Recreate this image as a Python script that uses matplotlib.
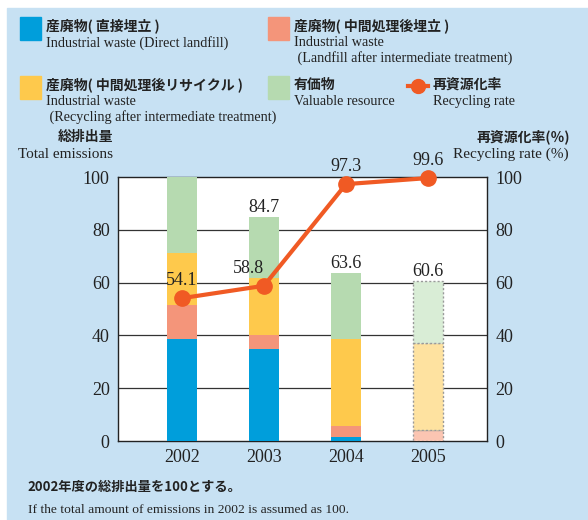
import matplotlib.pyplot as plt
from matplotlib.patches import Rectangle
from matplotlib.lines import Line2D

# Data (2002 total = 100)
years = ["2002", "2003", "2004", "2005"]
direct_landfill = [38.6, 34.8, 1.6, 0.0]
landfill_after = [12.8, 5.4, 4.2, 4.3]
recycling_after = [19.8, 21.7, 32.8, 32.7]
valuable = [28.8, 22.8, 25.0, 23.6]
totals = [100, 84.7, 63.6, 60.6]
recycling_rate = [54.1, 58.8, 97.3, 99.6]

W, H = 588, 520
JP = ["Noto Sans CJK JP", "DejaVu Sans"]
SERIF = "Liberation Serif"

c_blue, c_salmon, c_yellow, c_green = "#009edb", "#f4957a", "#fec94c", "#b6dab0"
pale = {c_salmon: "#fbc5b2", c_yellow: "#fee2a0", c_green: "#d9edd6"}
c_line = "#f05a24"
c_bg = "#c7e1f3"


def px(x, y):
    return x / W, 1 - y / H


fig = plt.figure(figsize=(W / 100, H / 100), dpi=100)
fig.patches.append(Rectangle(px(7, H), (W - 7) / W, (H - 8) / H,
                             transform=fig.transFigure, color=c_bg, zorder=-5))

ax = fig.add_axes([118 / W, (H - 441) / H, 369 / W, 264 / H])
ax.set_facecolor("white")
x = range(len(years))
width = 0.37
bottoms = [0.0] * len(years)
for vals, col in [(direct_landfill, c_blue), (landfill_after, c_salmon),
                  (recycling_after, c_yellow), (valuable, c_green)]:
    for i, v in enumerate(vals):
        if v <= 0:
            continue
        if i == 3:  # 2005 drawn pale with dotted edges
            ax.bar(i, v, width, bottom=bottoms[i], color=pale.get(col, col),
                   edgecolor="#999999", linestyle=(0, (1.5, 1.5)), linewidth=1, zorder=3)
        else:
            ax.bar(i, v, width, bottom=bottoms[i], color=col, zorder=3)
        bottoms[i] += v

for i, t in enumerate(totals[1:], start=1):
    ax.text(i, t + 2.0, f"{t}", ha="center", va="baseline", family=SERIF,
            fontsize=13, color="#222222", zorder=5)

ax.set_xlim(-0.78, 3.72)
ax.set_ylim(0, 100)
ax.set_xticks(list(x))
ax.set_xticklabels(years)
ax.set_yticks(range(0, 101, 20))
for y in range(20, 100, 20):
    ax.axhline(y, color="#333333", lw=0.9, zorder=1)
ax.tick_params(length=0, labelsize=13, pad=6, labelcolor="#222222")
for lab in ax.get_xticklabels() + ax.get_yticklabels():
    lab.set_family(SERIF)
for s in ax.spines.values():
    s.set_color("#222222")
    s.set_linewidth(1)

ax2 = ax.twinx()
ax2.set_ylim(0, 100)
ax2.set_yticks(range(0, 101, 20))
ax2.tick_params(length=0, labelsize=13, pad=6, labelcolor="#222222")
for lab in ax2.get_yticklabels():
    lab.set_family(SERIF)
for s in ax2.spines.values():
    s.set_visible(False)
ax2.plot(list(x), recycling_rate, color=c_line, lw=3, marker="o", markersize=11,
         zorder=6, clip_on=False)
for i, r in enumerate(recycling_rate):
    ax2.text(i - (0.19 if i == 1 else 0), r + 5.0, f"{r}", ha="center", va="baseline",
             family=SERIF, fontsize=13, color="#222222")

# axis titles
fig.text(*px(113, 137), "総排出量", ha="right", va="center", family=JP,
         fontsize=10, weight="bold", color="#222222")
fig.text(*px(113, 154), "Total emissions", ha="right", va="center", family=SERIF,
         fontsize=11, color="#222222")
fig.text(*px(570, 137), "再資源化率(％)", ha="right", va="center", family=JP,
         fontsize=10, weight="bold", color="#222222")
fig.text(*px(569, 154), "Recycling rate (%)", ha="right", va="center", family=SERIF,
         fontsize=11, color="#222222")

# legend, hand placed
legend_items = [
    (20, 17, c_blue, "産廃物( 直接埋立 )", "Industrial waste (Direct landfill)"),
    (268, 17, c_salmon, "産廃物( 中間処理後埋立 )",
     "Industrial waste\n (Landfill after intermediate treatment)"),
    (20, 76, c_yellow, "産廃物( 中間処理後リサイクル )",
     "Industrial waste\n (Recycling after intermediate treatment)"),
    (268, 76, c_green, "有価物", "Valuable resource"),
]
for lx, ly, col, jp, en in legend_items:
    fig.patches.append(Rectangle(px(lx, ly + 23), 21 / W, 23 / H,
                                 transform=fig.transFigure, color=col, zorder=2))
    fig.text(*px(lx + 26, ly + 9), jp, ha="left", va="center", family=JP,
             fontsize=10, weight="bold", color="#222222")
    fig.text(*px(lx + 26, ly + 19), en, ha="left", va="top", family=SERIF,
             fontsize=10.2, color="#222222", linespacing=1.15)
fig.lines.append(Line2D([408 / W, 428 / W], [1 - 86 / H] * 2, transform=fig.transFigure,
                        color=c_line, lw=3))
fig.lines.append(Line2D([418 / W], [1 - 86 / H], transform=fig.transFigure,
                        color=c_line, marker="o", markersize=10, linestyle="none"))
fig.text(*px(433, 85), "再資源化率", ha="left", va="center", family=JP,
         fontsize=10, weight="bold", color="#222222")
fig.text(*px(433, 95), "Recycling rate", ha="left", va="top", family=SERIF,
         fontsize=10.2, color="#222222")

# footnote
fig.text(*px(27, 487), "2002年度の総排出量を100とする。", ha="left", va="center",
         family=JP, fontsize=9.5, weight="bold", color="#222222")
fig.text(*px(28, 510), "If the total amount of emissions in 2002 is assumed as 100.",
         ha="left", va="center", family=SERIF, fontsize=9.7, color="#222222")

fig.savefig("out.png", dpi=100)
